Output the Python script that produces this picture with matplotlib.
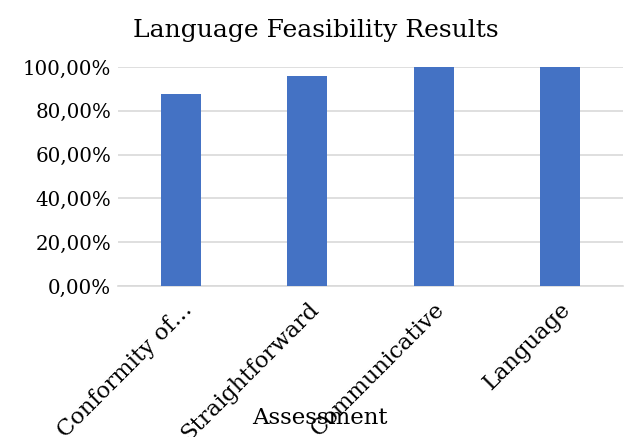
import matplotlib.pyplot as plt
from matplotlib.ticker import FuncFormatter

categories = ['Conformity of…', 'Straightforward', 'Communicative', 'Language']
values = [0.875, 0.9583, 1.0, 1.0]
yticks = [0, 0.2, 0.4, 0.6, 0.8, 1.0]

plt.rcParams['font.family'] = ['DejaVu Serif']

fig = plt.figure(figsize=(6.24, 4.37), dpi=100)
ax = fig.add_axes([118/624, 1-286/437, 505/624, 219/437])

x = range(len(categories))
ax.bar(x, values, width=0.315, color='#4472C4', zorder=3)
ax.set_xlim(-0.5, len(categories)-0.5)
ax.set_ylim(0, 1.0)
ax.set_yticks(yticks)
ax.yaxis.set_major_formatter(FuncFormatter(lambda v, p: '{:.2f}%'.format(v*100).replace('.', ',')))
ax.grid(axis='y', color='#D9D9D9', linewidth=1.2, zorder=0)
ax.set_axisbelow(True)
for s in ['top', 'right', 'left']:
    ax.spines[s].set_visible(False)
ax.spines['bottom'].set_color('#D9D9D9')
ax.spines['bottom'].set_linewidth(1.2)
ax.tick_params(axis='y', length=0, labelsize=14.3, colors='black', pad=5)
ax.set_xticks(list(x))
ax.set_xticklabels(categories, rotation=45, ha='right', rotation_mode='anchor')
ax.tick_params(axis='x', length=0, labelsize=16.3, colors='black', pad=9)

fig.text(316/624, 1-30/437, 'Language Feasibility Results', ha='center', va='center', fontsize=18)
fig.text(320/624, 1-418/437, 'Assessment', ha='center', va='center', fontsize=16.5)

fig.savefig('out.png', dpi=100)
